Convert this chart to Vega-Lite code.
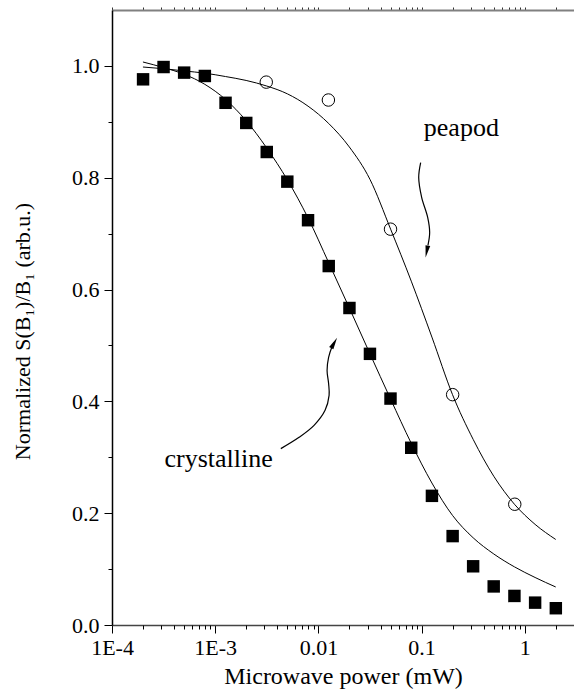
{
  "$schema": "https://vega.github.io/schema/vega-lite/v6.json",
  "width": 462,
  "height": 615,
  "autosize": {"type": "none"},
  "padding": {"left": 112, "top": 10, "right": 0, "bottom": 67},
  "background": "white",
  "config": {
    "font": "Liberation Serif",
    "view": {"stroke": null},
    "axis": {
      "labelFont": "Liberation Serif",
      "titleFont": "Liberation Serif",
      "labelColor": "black",
      "titleColor": "black",
      "tickColor": "black",
      "domainColor": "black",
      "grid": false,
      "labelFontSize": 22,
      "titleFontSize": 24,
      "titleFontWeight": "normal"
    }
  },
  "datasets": {
    "crys": [
      {"P": 0.0002, "S": 0.976}, {"P": 0.000316, "S": 0.998}, {"P": 0.0005, "S": 0.988},
      {"P": 0.000794, "S": 0.982}, {"P": 0.00126, "S": 0.934}, {"P": 0.002, "S": 0.898},
      {"P": 0.00316, "S": 0.846}, {"P": 0.005, "S": 0.793}, {"P": 0.00794, "S": 0.724},
      {"P": 0.0126, "S": 0.642}, {"P": 0.02, "S": 0.567}, {"P": 0.0316, "S": 0.485},
      {"P": 0.05, "S": 0.405}, {"P": 0.0794, "S": 0.317}, {"P": 0.126, "S": 0.231},
      {"P": 0.2, "S": 0.159}, {"P": 0.316, "S": 0.105}, {"P": 0.5, "S": 0.069},
      {"P": 0.794, "S": 0.052}, {"P": 1.26, "S": 0.04}, {"P": 2, "S": 0.03}
    ],
    "pea": [
      {"P": 0.003125, "S": 0.971}, {"P": 0.0125, "S": 0.939}, {"P": 0.05, "S": 0.708},
      {"P": 0.2, "S": 0.412}, {"P": 0.8, "S": 0.216}
    ],
    "crysfit": [
      {"P": 0.0001995, "S": 1.007}, {"P": 0.0003162, "S": 0.997}, {"P": 0.0005012, "S": 0.985},
      {"P": 0.0007943, "S": 0.967}, {"P": 0.001259, "S": 0.94}, {"P": 0.001995, "S": 0.902},
      {"P": 0.003162, "S": 0.853}, {"P": 0.005012, "S": 0.796}, {"P": 0.007943, "S": 0.728},
      {"P": 0.01259, "S": 0.648}, {"P": 0.01995, "S": 0.567}, {"P": 0.03162, "S": 0.485},
      {"P": 0.05012, "S": 0.404}, {"P": 0.07943, "S": 0.325}, {"P": 0.1259, "S": 0.254},
      {"P": 0.1995, "S": 0.196}, {"P": 0.3162, "S": 0.156}, {"P": 0.5012, "S": 0.127},
      {"P": 0.7943, "S": 0.104}, {"P": 1.259, "S": 0.085}, {"P": 1.995, "S": 0.068}
    ],
    "peafit": [
      {"P": 0.0001995, "S": 0.998}, {"P": 0.0003162, "S": 0.995}, {"P": 0.0005012, "S": 0.991},
      {"P": 0.0007943, "S": 0.987}, {"P": 0.001259, "S": 0.981}, {"P": 0.001995, "S": 0.974},
      {"P": 0.003162, "S": 0.964}, {"P": 0.005012, "S": 0.95}, {"P": 0.007943, "S": 0.928},
      {"P": 0.01259, "S": 0.897}, {"P": 0.01995, "S": 0.855}, {"P": 0.03162, "S": 0.797},
      {"P": 0.05012, "S": 0.708}, {"P": 0.07943, "S": 0.615}, {"P": 0.1259, "S": 0.515},
      {"P": 0.1995, "S": 0.412}, {"P": 0.3162, "S": 0.332}, {"P": 0.5012, "S": 0.266},
      {"P": 0.7943, "S": 0.216}, {"P": 1.259, "S": 0.18}, {"P": 1.995, "S": 0.153}
    ],
    "arrows": [
      {"arrow": "peapod", "i": 1, "P": 0.098, "S": 0.827},
      {"arrow": "peapod", "i": 2, "P": 0.0938, "S": 0.8005},
      {"arrow": "peapod", "i": 3, "P": 0.1002, "S": 0.765},
      {"arrow": "peapod", "i": 4, "P": 0.1146, "S": 0.729},
      {"arrow": "peapod", "i": 5, "P": 0.1198, "S": 0.702},
      {"arrow": "peapod", "i": 6, "P": 0.1153, "S": 0.679},
      {"arrow": "crystalline", "i": 1, "P": 0.004325, "S": 0.3155},
      {"arrow": "crystalline", "i": 2, "P": 0.0065, "S": 0.3357},
      {"arrow": "crystalline", "i": 3, "P": 0.00908, "S": 0.3571},
      {"arrow": "crystalline", "i": 4, "P": 0.01161, "S": 0.3839},
      {"arrow": "crystalline", "i": 5, "P": 0.0127, "S": 0.4107},
      {"arrow": "crystalline", "i": 6, "P": 0.01256, "S": 0.4321},
      {"arrow": "crystalline", "i": 7, "P": 0.01214, "S": 0.4554},
      {"arrow": "crystalline", "i": 8, "P": 0.01256, "S": 0.4786},
      {"arrow": "crystalline", "i": 9, "P": 0.01358, "S": 0.4982},
      {"arrow": "crystalline", "i": 10, "P": 0.01419, "S": 0.5054}
    ],
    "heads": [
      {"arrow": "peapod", "P": 0.1122, "S": 0.668},
      {"arrow": "crystalline", "P": 0.01422, "S": 0.5045}
    ],
    "labels": [
      {"text": "peapod", "P": 0.243, "S": 0.875},
      {"text": "crystalline", "P": 0.00108, "S": 0.283}
    ]
  },
  "resolve": {"axis": {"x": "independent", "y": "independent"}},
  "layer": [
    {
      "data": {"name": "crysfit"},
      "mark": {"type": "line", "color": "black", "strokeWidth": 1, "interpolate": "monotone"},
      "encoding": {
        "x": {
          "field": "P", "type": "quantitative",
          "scale": {"type": "log", "domain": [0.0001, 3], "nice": false},
          "axis": {
            "orient": "bottom",
            "values": [0.0001, 0.001, 0.01, 0.1, 1],
            "labelExpr": "datum.value == 0.0001 ? '1E-4' : datum.value == 0.001 ? '1E-3' : datum.value == 0.01 ? '0.01' : datum.value == 0.1 ? '0.1' : '1'",
            "tickSize": 8,
            "labelPadding": 4,
            "labelOverlap": false,
            "labelFlush": false,
            "title": "Microwave power (mW)",
            "titleY": 58,
            "titleBaseline": "alphabetic",
            "domainColor": "#444",
            "domainWidth": 1.5
          }
        },
        "y": {
          "field": "S", "type": "quantitative",
          "scale": {"domain": [0, 1.1], "nice": false},
          "axis": {
            "orient": "left",
            "values": [0, 0.2, 0.4, 0.6, 0.8, 1.0],
            "format": ".1f",
            "tickSize": 8,
            "labelPadding": 5,
            "labelOverlap": false,
            "labelFlush": false,
            "title": "Normalized S(B₁)/B₁ (arb.u.)",
            "titleFontSize": 22,
            "titleX": -83,
            "titleY": 321,
            "titleBaseline": "alphabetic",
            "titleAngle": -90,
            "domainWidth": 1.5
          }
        }
      }
    },
    {
      "data": {"name": "peafit"},
      "mark": {"type": "line", "color": "black", "strokeWidth": 1, "interpolate": "monotone"},
      "encoding": {
        "x": {
          "field": "P", "type": "quantitative",
          "scale": {"type": "log", "domain": [0.0001, 3], "nice": false},
          "axis": {
            "orient": "bottom",
            "values": [0.0002, 0.0003, 0.0004, 0.0005, 0.0006, 0.0007, 0.0008, 0.0009,
                       0.002, 0.003, 0.004, 0.005, 0.006, 0.007, 0.008, 0.009,
                       0.02, 0.03, 0.04, 0.05, 0.06, 0.07, 0.08, 0.09,
                       0.2, 0.3, 0.4, 0.5, 0.6, 0.7, 0.8, 0.9, 2],
            "labels": false,
            "domain": false,
            "title": null,
            "tickSize": 4
          }
        },
        "y": {
          "field": "S", "type": "quantitative",
          "scale": {"domain": [0, 1.1], "nice": false},
          "axis": {
            "orient": "left",
            "values": [0.1, 0.3, 0.5, 0.7, 0.9],
            "labels": false,
            "domain": false,
            "title": null,
            "tickSize": 4
          }
        }
      }
    },
    {
      "data": {"name": "crys"},
      "mark": {"type": "square", "size": 155, "color": "black", "opacity": 1},
      "encoding": {
        "x": {
          "field": "P", "type": "quantitative",
          "scale": {"type": "log", "domain": [0.0001, 3], "nice": false},
          "axis": {
            "orient": "top",
            "values": [0.0001, 0.0002, 0.0003, 0.0004, 0.0005, 0.0006, 0.0007, 0.0008, 0.0009,
                       0.001, 0.002, 0.003, 0.004, 0.005, 0.006, 0.007, 0.008, 0.009,
                       0.01, 0.02, 0.03, 0.04, 0.05, 0.06, 0.07, 0.08, 0.09,
                       0.1, 0.2, 0.3, 0.4, 0.5, 0.6, 0.7, 0.8, 0.9, 1, 2],
            "labels": false,
            "title": null,
            "tickSize": 3,
            "tickColor": "#333",
            "domainColor": "#808080",
            "domainWidth": 2
          }
        },
        "y": {"field": "S", "type": "quantitative", "scale": {"domain": [0, 1.1], "nice": false}, "axis": null}
      }
    },
    {
      "data": {"name": "pea"},
      "mark": {"type": "point", "shape": "circle", "filled": false, "size": 155, "stroke": "black", "strokeWidth": 1, "opacity": 1},
      "encoding": {
        "x": {"field": "P", "type": "quantitative", "scale": {"type": "log", "domain": [0.0001, 3], "nice": false}, "axis": null},
        "y": {"field": "S", "type": "quantitative", "scale": {"domain": [0, 1.1], "nice": false}, "axis": null}
      }
    },
    {
      "data": {"name": "arrows"},
      "mark": {"type": "line", "color": "black", "strokeWidth": 1.2, "interpolate": "catmull-rom"},
      "encoding": {
        "x": {"field": "P", "type": "quantitative", "scale": {"type": "log", "domain": [0.0001, 3], "nice": false}, "axis": null},
        "y": {"field": "S", "type": "quantitative", "scale": {"domain": [0, 1.1], "nice": false}, "axis": null},
        "detail": {"field": "arrow"},
        "order": {"field": "i", "type": "quantitative"}
      }
    },
    {
      "data": {"name": "heads"},
      "transform": [{"filter": "datum.arrow == 'peapod'"}],
      "mark": {"type": "point", "shape": "M -0.4 -1 L 0.4 -1 L 0 1 Z", "filled": true, "size": 144, "color": "black", "opacity": 1, "angle": 11},
      "encoding": {
        "x": {"field": "P", "type": "quantitative", "scale": {"type": "log", "domain": [0.0001, 3], "nice": false}, "axis": null},
        "y": {"field": "S", "type": "quantitative", "scale": {"domain": [0, 1.1], "nice": false}, "axis": null}
      }
    },
    {
      "data": {"name": "heads"},
      "transform": [{"filter": "datum.arrow == 'crystalline'"}],
      "mark": {"type": "point", "shape": "M -0.4 1 L 0.4 1 L 0 -1 Z", "filled": true, "size": 144, "color": "black", "opacity": 1, "angle": 29},
      "encoding": {
        "x": {"field": "P", "type": "quantitative", "scale": {"type": "log", "domain": [0.0001, 3], "nice": false}, "axis": null},
        "y": {"field": "S", "type": "quantitative", "scale": {"domain": [0, 1.1], "nice": false}, "axis": null}
      }
    },
    {
      "data": {"name": "labels"},
      "mark": {"type": "text", "font": "Liberation Serif", "fontSize": 26, "color": "black", "align": "center", "baseline": "alphabetic"},
      "encoding": {
        "x": {"field": "P", "type": "quantitative", "scale": {"type": "log", "domain": [0.0001, 3], "nice": false}, "axis": null},
        "y": {"field": "S", "type": "quantitative", "scale": {"domain": [0, 1.1], "nice": false}, "axis": null},
        "text": {"field": "text"}
      }
    }
  ]
}
